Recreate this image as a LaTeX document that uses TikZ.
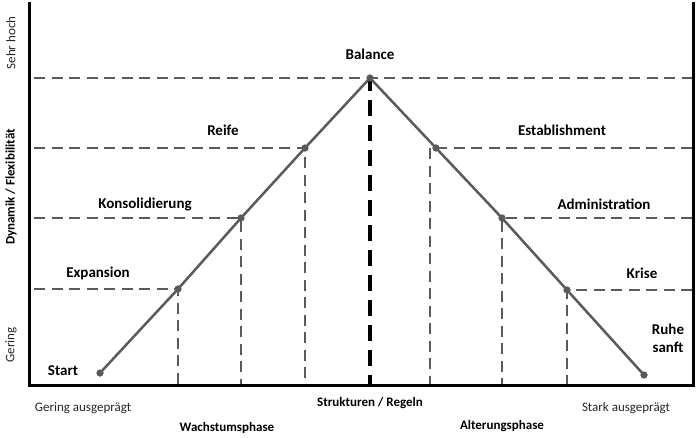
\documentclass[tikz,border=0pt]{standalone}
\usepackage{fontspec}
\setmainfont{Carlito}
\usetikzlibrary{positioning}
\definecolor{lineGray}{HTML}{5A5A5A}
\tikzset{
  stagelabel/.style={font=\bfseries\fontsize{15}{18}\selectfont, inner sep=0pt},
  axislabel/.style={font=\fontsize{13}{15}\selectfont, text=black!85, inner sep=0pt},
  axisbold/.style={font=\bfseries\fontsize{13}{15}\selectfont, inner sep=0pt},
  guide/.style={draw=lineGray, line width=2.5pt, dash pattern=on 11pt off 6.5pt},
  stagedot/.style={circle, fill=lineGray, inner sep=0pt, minimum size=7pt},
}

\begin{document}
\begin{tikzpicture}[x=1pt, y=-1pt]
  \useasboundingbox (0,0) rectangle (697,437);

  % axis corners
  \coordinate (o) at (34,385);
  \coordinate (rt) at (692,385);

  % stages
  \node[stagedot] (start) at (100,373) {};
  \node[stagedot] (expansion) at (178,289) {};
  \node[stagedot] (konsol) at (241,218) {};
  \node[stagedot] (reife) at (305,148) {};
  \node[stagedot] (balance) at (370,78) {};
  \node[stagedot] (establ) at (436,148) {};
  \node[stagedot] (admin) at (502,218) {};
  \node[stagedot] (krise) at (567,290) {};
  \node[stagedot] (ruhe) at (644,375) {};

  % guide lines
  \draw[guide] (balance.center -| o) -- (balance.center -| rt);
  \foreach \p in {expansion, konsol, reife}{
    \draw[guide] (\p.center -| o) -- (\p.center) -- (\p.center |- o);
  }
  \foreach \p in {admin, krise}{
    \draw[guide] (\p.center -| rt) -- (\p.center) -- (\p.center |- o);
  }
  \draw[guide] (establ.center -| rt) -- (establ.center);
  \draw[guide] ([xshift=-6pt]establ.center) -- ([xshift=-6pt]establ.center |- o);
  \draw[line width=3.5pt, dash pattern=on 16pt off 9pt] ([yshift=3pt]balance.center) -- (balance.center |- o);

  % life cycle
  \draw[lineGray, line width=2.5pt] (start.center) -- (expansion.center) -- (konsol.center)
    -- (reife.center) -- (balance.center) -- (establ.center) -- (admin.center)
    -- (krise.center) -- (ruhe.center);
  \foreach \p in {start, expansion, konsol, reife, balance, establ, admin, krise, ruhe}{
    \node[stagedot] at (\p) {};
  }

  % frame
  \draw[line width=3pt] (29,2) -- (29,385) -- (693,385) -- (693,2);

  % stage labels
  \node[stagelabel] (lStart) at (63,371) {Start};
  \node[stagelabel] (lExpansion) at (98,273) {Expansion};
  \node[stagelabel] (lKonsol) at (145,205) {Konsolidierung};
  \node[stagelabel] (lReife) at (223,130) {Reife};
  \node[stagelabel] (lBalance) at (370,54) {Balance};
  \node[stagelabel] (lEstabl) at (562,130) {Establishment};
  \node[stagelabel] (lAdmin) at (604,204) {Administration};
  \node[stagelabel] (lKrise) at (642,273) {Krise};
  \node[stagelabel, align=center] (lRuhe) at (668,338) {Ruhe\\sanft};

  % axis labels
  \node[axislabel] (lGering) at (83,408) {Gering ausgeprägt};
  \node[axislabel] (lStark) at (626,408) {Stark ausgeprägt};
  \node[axisbold] (lStrukt) at (370,403) {Strukturen / Regeln};
  \node[axisbold] (lWachstum) at (227,428) {Wachstumsphase};
  \node[axisbold] (lAlterung) at (502,426) {Alterungsphase};
  \node[axislabel, rotate=90] (lHoch) at (11,43) {Sehr hoch};
  \node[axisbold, rotate=90] (lDynamik) at (11,187) {Dynamik / Flexibilität};
  \node[axislabel, rotate=90] (lTief) at (11,345) {Gering};
\end{tikzpicture}
\end{document}
